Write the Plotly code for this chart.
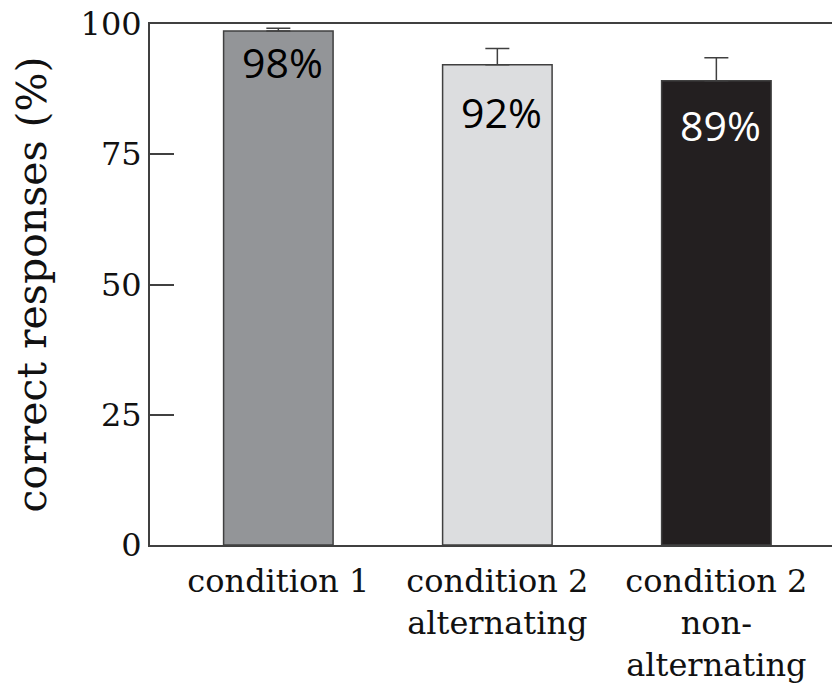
import plotly.graph_objects as go

# ---- data ----
categories = ["condition 1", "condition 2<br>alternating", "condition 2<br>non-<br>alternating"]
values = [98.65, 92.2, 89.1]
err_upper = [0.55, 3.1, 4.4]
bar_labels = ["98%", "92%", "89%"]
y_ticks = [0, 25, 50, 75, 100]

# ---- styles ----
bar_colors = ["#939598", "#dcdddf", "#231f20"]
label_colors = ["#000000", "#000000", "#ffffff"]
label_drop = [6.0, 9.0, 8.4]   # how far below the bar top each label sits (data units)
line_col = "#404040"

x_idx = list(range(len(categories)))

fig = go.Figure()
fig.add_trace(go.Bar(
    x=x_idx, y=values, width=0.5,
    marker=dict(color=bar_colors, line=dict(color=line_col, width=1.5)),
    error_y=dict(type="data", symmetric=False, array=err_upper,
                 arrayminus=[0] * len(values), color=line_col,
                 thickness=1.5, width=12),
    showlegend=False, hoverinfo="skip",
))

for i, (v, t, c, d) in enumerate(zip(values, bar_labels, label_colors, label_drop)):
    fig.add_annotation(x=i + 0.02, y=v - d, xref="x", yref="y", text=t,
                       showarrow=False,
                       font=dict(family="Open Sans", size=41, color=c))

fig.update_layout(
    width=832, height=689,
    margin=dict(l=150, r=0, t=24, b=144),
    plot_bgcolor="white", paper_bgcolor="white",
    bargap=0.5,
)
fig.update_xaxes(
    range=[-0.586, 2.528], tickmode="array", tickvals=x_idx, ticktext=categories,
    showline=True, linecolor=line_col, linewidth=2, mirror=True,
    ticks="", showgrid=False, zeroline=False,
    tickfont=dict(family="DejaVu Serif", size=32, color="#111"),
    ticklabelstandoff=7, automargin=False,
)
fig.update_yaxes(
    range=[0, 100], tickmode="array", tickvals=y_ticks,
    showline=True, linecolor=line_col, linewidth=2,
    ticks="inside", ticklen=24, tickwidth=2, tickcolor=line_col,
    showgrid=False, zeroline=False,
    tickfont=dict(family="DejaVu Serif", size=32, color="#111"),
    title=dict(text="correct responses (%)", standoff=21,
               font=dict(family="DejaVu Serif", size=41, color="#111")),
    automargin=False,
)

fig.write_html("out.html", config={"displayModeBar": False},
               post_script="document.body.style.margin='0';")
